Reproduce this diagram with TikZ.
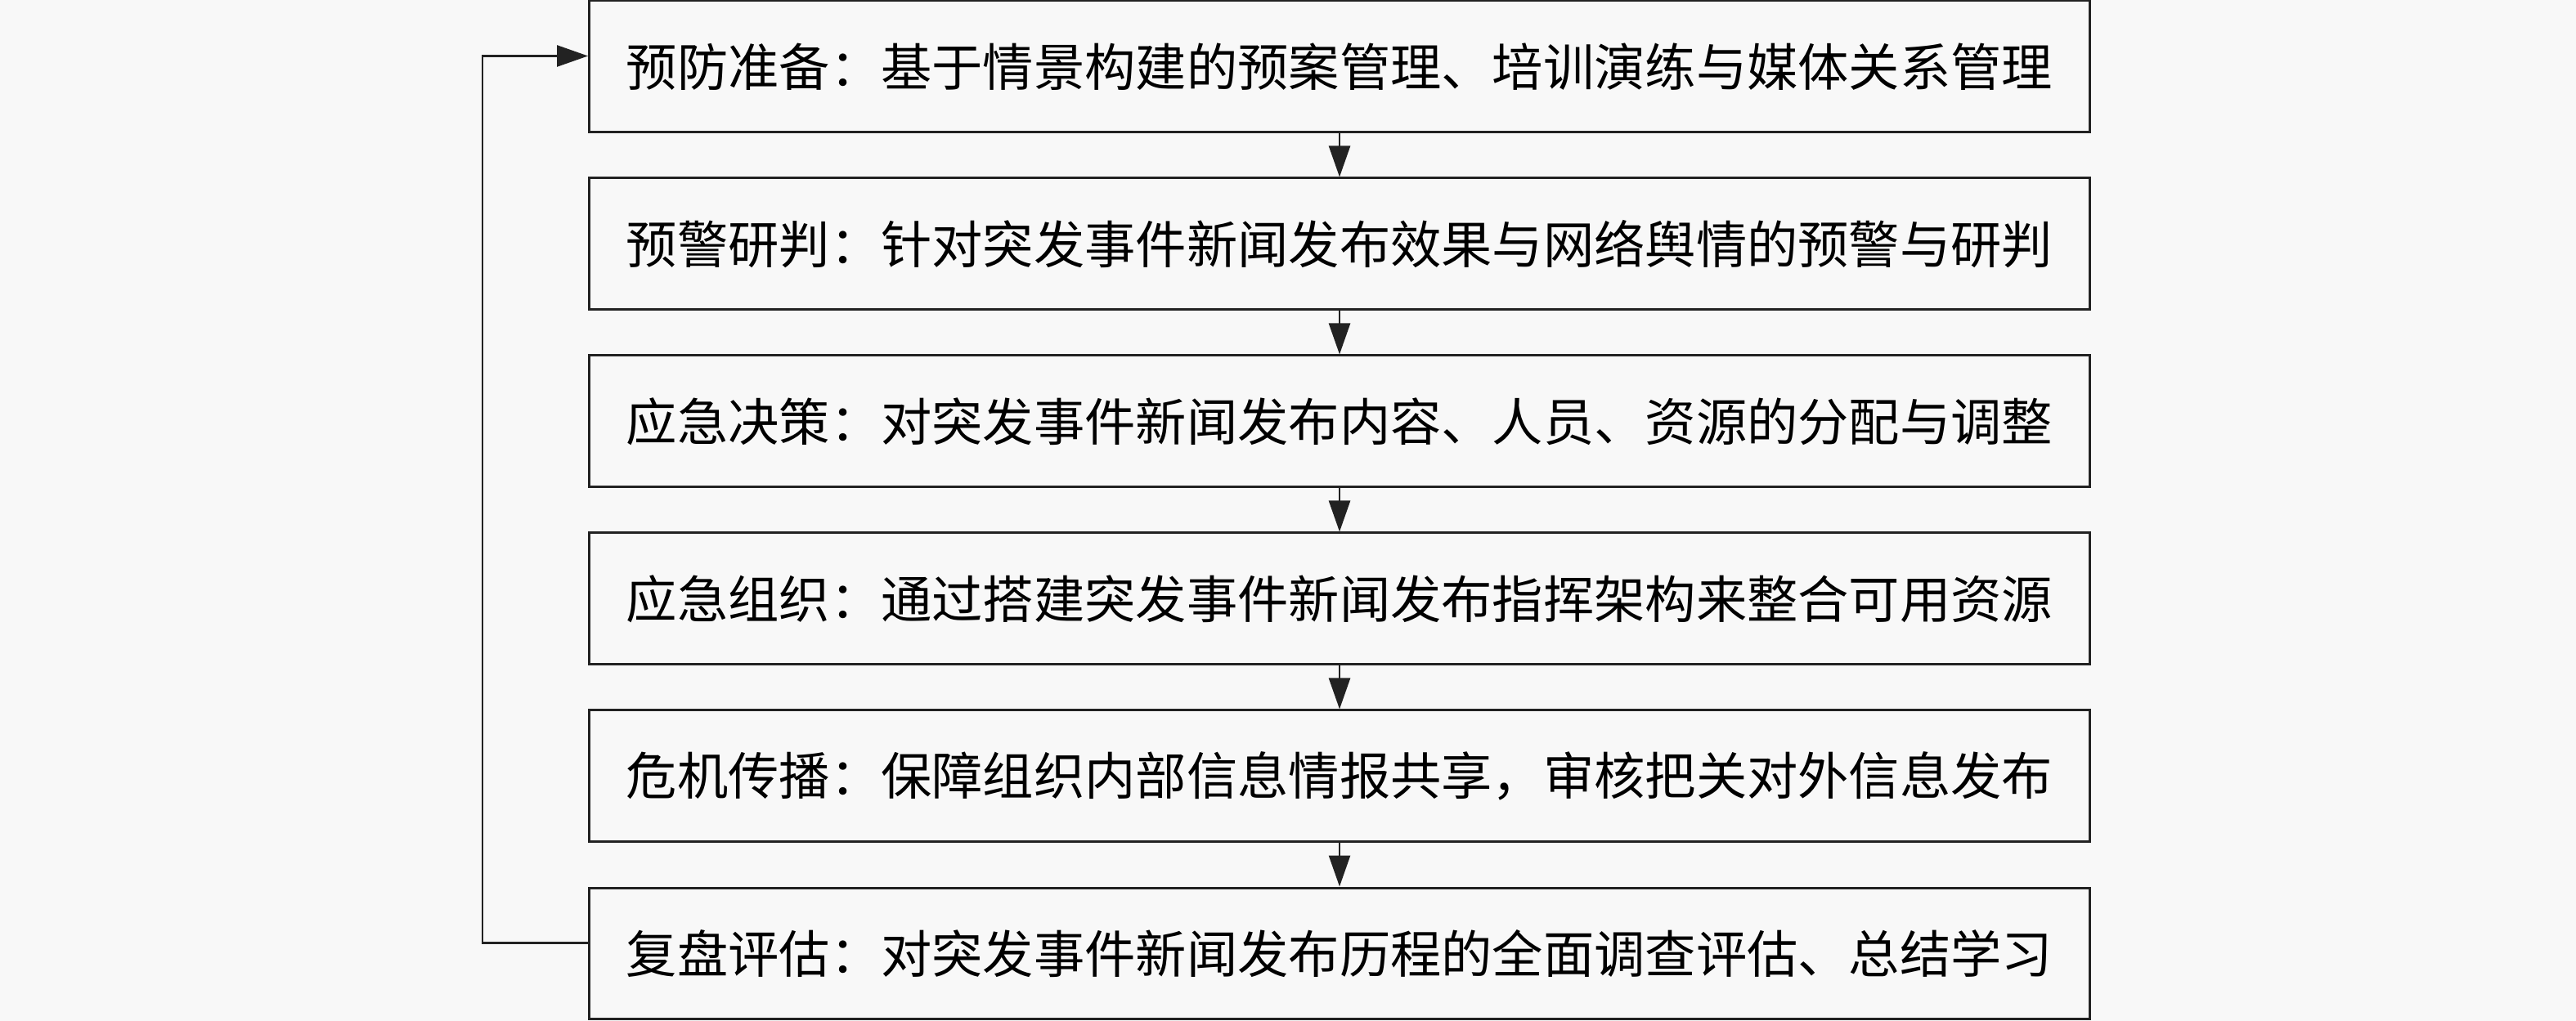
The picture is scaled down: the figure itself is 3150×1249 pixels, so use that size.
\documentclass[tikz,border=0pt]{standalone}
\usepackage{fontspec}
\newfontfamily\cjk{Noto Sans CJK SC}
\usetikzlibrary{arrows.meta}
\definecolor{bgc}{HTML}{F8F8F8}
\definecolor{linec}{HTML}{222222}
\begin{document}
\begin{tikzpicture}[x=0.1pt,y=0.1pt,
  stepbox/.style={draw=linec,line width=0.3pt,fill=bgc,minimum width=183.5pt,minimum height=16.1pt,inner sep=0pt,font=\cjk\fontsize{6.23pt}{7pt}\selectfont,text=black},
  flow/.style={draw=linec,line width=0.25pt,-{Triangle[width=2.6pt,length=3.8pt]}}]
\fill[bgc] (0,0) rectangle (3150,1249);
\useasboundingbox (0,0) rectangle (3150,1249);
\node[stepbox] (b1) at (1638,1167.5) {预防准备：基于情景构建的预案管理、培训演练与媒体关系管理};
\node[stepbox] (b2) at (1638,950.5) {预警研判：针对突发事件新闻发布效果与网络舆情的预警与研判};
\node[stepbox] (b3) at (1638,733.5) {应急决策：对突发事件新闻发布内容、人员、资源的分配与调整};
\node[stepbox] (b4) at (1638,516.5) {应急组织：通过搭建突发事件新闻发布指挥架构来整合可用资源};
\node[stepbox] (b5) at (1638,299.5) {危机传播：保障组织内部信息情报共享，审核把关对外信息发布};
\node[stepbox] (b6) at (1638,82.5) {复盘评估：对突发事件新闻发布历程的全面调查评估、总结学习};
\draw[flow] (b1.south) -- (b2.north);
\draw[flow] (b2.south) -- (b3.north);
\draw[flow] (b3.south) -- (b4.north);
\draw[flow] (b4.south) -- (b5.north);
\draw[flow] (b5.south) -- (b6.north);
\coordinate (c1) at ([yshift=1.3pt]b6.west);
\coordinate (c2) at ([yshift=1.3pt]b1.west);
\draw[flow] (c1) -- ++(-129,0) |- (c2);
\end{tikzpicture}
\end{document}
